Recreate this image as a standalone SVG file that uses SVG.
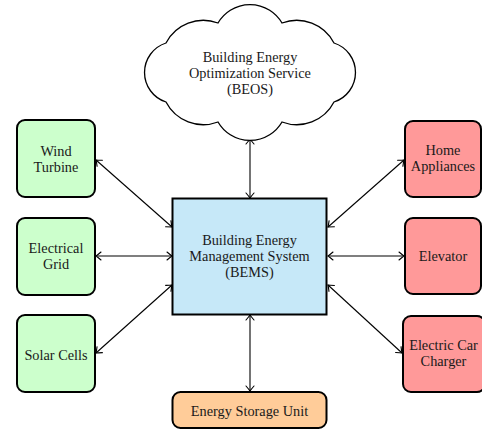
<svg xmlns="http://www.w3.org/2000/svg" width="482" height="430" viewBox="0 0 482 430">
  <style>
    .box { stroke: #000; stroke-width: 2; }
    .src { fill: #ccffcc; }
    .load { fill: #ff9999; }
    .core { fill: #c6e8f8; }
    .store { fill: #ffcc99; }
    .cloud { fill: #fff; stroke: #000; stroke-width: 1.3; }
    text { font-family: "Liberation Serif", "Times New Roman", serif; font-size: 14.3px; fill: #1a1a1a; text-anchor: middle; }
    .link { stroke: #000; stroke-width: 1.1; fill: none; marker-start: url(#tip); marker-end: url(#tip); }
  </style>
  <defs>
    <marker id="tip" viewBox="-6 -5 8 10" markerWidth="8" markerHeight="10" refX="0" refY="0" orient="auto-start-reverse" markerUnits="userSpaceOnUse">
      <path d="M -5 -4 Q -1.5 -1 0 0 Q -1.5 1 -5 4" fill="none" stroke="#000" stroke-width="1.1" stroke-linecap="round"/>
    </marker>
  </defs>

  <rect width="482" height="430" fill="#fff"/>

  <!-- connectors -->
  <g id="connectors">
    <line class="link" x1="250" y1="139" x2="250" y2="198"/>
    <line class="link" x1="250" y1="315" x2="250" y2="391"/>
    <line class="link" x1="96" y1="160" x2="172" y2="227"/>
    <line class="link" x1="96" y1="256" x2="172" y2="256"/>
    <line class="link" x1="96" y1="353" x2="172" y2="285"/>
    <line class="link" x1="404" y1="160" x2="328" y2="227"/>
    <line class="link" x1="404" y1="256" x2="328" y2="256"/>
    <line class="link" x1="402" y1="353" x2="328" y2="285"/>
  </g>

  <!-- optimization service cloud -->
  <g id="beos">
    <path class="cloud" d="M 166 43 A 42 42 0 0 1 218 23 A 37 37 0 0 1 282 23 A 42 42 0 0 1 334 43 A 31 31 0 0 1 334 102 A 42 42 0 0 1 282 122 A 37 37 0 0 1 218 122 A 42 42 0 0 1 166 102 A 31 31 0 0 1 166 43 Z"/>
    <text x="250" y="61.5">Building Energy</text>
    <text x="250" y="77.5">Optimization Service</text>
    <text x="250" y="93.5">(BEOS)</text>
  </g>

  <!-- energy sources -->
  <g id="wind">
    <rect class="box src" x="17" y="120" width="78" height="77" rx="8"/>
    <text x="56" y="156">Wind</text>
    <text x="56" y="172">Turbine</text>
  </g>
  <g id="grid">
    <rect class="box src" x="17" y="218" width="78" height="77" rx="8"/>
    <text x="56" y="252.5">Electrical</text>
    <text x="56" y="268.5">Grid</text>
  </g>
  <g id="solar">
    <rect class="box src" x="17" y="315" width="78" height="77" rx="8"/>
    <text x="56" y="359.5">Solar Cells</text>
  </g>

  <!-- management system -->
  <g id="bems">
    <rect class="box core" x="172.5" y="198.5" width="154" height="116"/>
    <text x="249.5" y="244.5">Building Energy</text>
    <text x="249.5" y="260.5">Management System</text>
    <text x="249.5" y="276.5">(BEMS)</text>
  </g>

  <!-- loads -->
  <g id="appliances">
    <rect class="box load" x="405" y="121" width="76" height="76" rx="8"/>
    <text x="443" y="154.5">Home</text>
    <text x="443" y="170.5">Appliances</text>
  </g>
  <g id="elevator">
    <rect class="box load" x="405" y="218" width="76" height="76" rx="8"/>
    <text x="443" y="261">Elevator</text>
  </g>
  <g id="charger">
    <rect class="box load" x="403" y="316" width="82" height="76" rx="8"/>
    <text x="443.5" y="349.5">Electric Car</text>
    <text x="443.5" y="365.5">Charger</text>
  </g>

  <!-- storage -->
  <g id="storage">
    <rect class="box store" x="172.5" y="392" width="154" height="36" rx="8"/>
    <text x="249.5" y="415.5">Energy Storage Unit</text>
  </g>
</svg>
